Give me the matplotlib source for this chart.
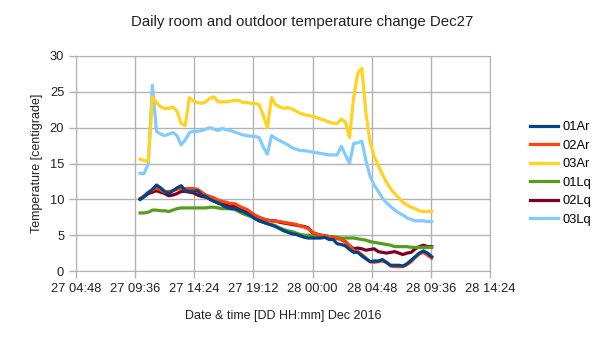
import pandas as pd
import matplotlib
matplotlib.use("Agg")
import matplotlib.pyplot as plt
import matplotlib.dates as mdates

plt.rcParams['font.family'] = ['Liberation Sans', 'DejaVu Sans']

# 20-minute readings, 27 Dec 10:00 -> 28 Dec 09:40
times = pd.date_range('2016-12-27 10:00', periods=72, freq='20min')

ar01 = [10.0, 10.4, 10.9, 11.4, 12.0, 11.6, 11.1, 10.8, 11.2, 11.6, 11.9, 11.2,
        11.1, 11.1, 11.2, 10.6, 10.4, 10.0, 9.7, 9.5, 9.2, 8.9, 8.7, 8.7,
        8.5, 8.3, 8.0, 7.7, 7.3, 7.0, 6.8, 6.6, 6.4, 6.2, 5.9, 5.6,
        5.4, 5.2, 5.1, 4.9, 4.7, 4.6, 4.6, 4.6, 4.6, 4.7, 4.4, 4.4,
        3.8, 3.7, 3.5, 3.0, 2.6, 2.6, 2.1, 1.7, 1.3, 1.4, 1.4, 1.6,
        1.2, 0.8, 0.8, 0.8, 0.7, 1.0, 1.5, 2.0, 2.5, 2.8, 2.5, 2.0]
ar02 = [10.1, 10.5, 11.0, 11.3, 11.6, 11.3, 11.0, 11.1, 11.2, 11.4, 11.5, 11.5,
        11.5, 11.5, 11.4, 11.0, 10.6, 10.4, 10.2, 9.9, 9.7, 9.6, 9.4, 9.4,
        9.1, 8.8, 8.6, 8.2, 7.8, 7.5, 7.3, 7.1, 7.0, 6.9, 6.9, 6.8,
        6.7, 6.6, 6.5, 6.3, 6.1, 5.9, 5.4, 5.2, 5.0, 4.9, 4.8, 4.7,
        4.5, 4.4, 4.0, 3.5, 2.9, 2.7, 2.3, 1.8, 1.3, 1.2, 1.3, 1.4,
        1.2, 0.7, 0.6, 0.6, 0.6, 0.9, 1.3, 1.9, 2.4, 2.6, 2.2, 1.8]
ar03 = [15.6, 15.4, 15.3, 24.3, 23.5, 22.9, 22.7, 22.7, 22.9, 22.3, 20.6, 20.3,
        24.2, 23.7, 23.5, 23.4, 23.6, 24.1, 24.3, 23.6, 23.6, 23.6, 23.7, 23.8,
        23.8, 23.5, 23.5, 23.4, 23.4, 23.2, 21.7, 20.0, 24.2, 23.2, 22.9, 22.7,
        22.8, 22.6, 22.3, 22.0, 21.8, 21.7, 21.6, 21.4, 21.2, 21.0, 20.8, 20.6,
        20.6, 21.2, 20.8, 18.6, 24.2, 27.6, 28.3, 22.0, 18.0, 16.0, 14.7, 13.5,
        12.4, 11.5, 10.8, 10.2, 9.6, 9.2, 8.9, 8.7, 8.4, 8.3, 8.3, 8.3]
lq01 = [8.1, 8.1, 8.2, 8.5, 8.5, 8.4, 8.4, 8.3, 8.5, 8.7, 8.8, 8.8,
        8.8, 8.8, 8.8, 8.8, 8.8, 8.9, 8.9, 8.8, 8.7, 8.7, 8.7, 8.6,
        8.3, 8.0, 7.8, 7.6, 7.3, 7.0, 6.8, 6.6, 6.5, 6.3, 6.0, 5.8,
        5.6, 5.5, 5.3, 5.1, 5.0, 5.0, 4.9, 4.9, 4.9, 4.9, 4.8, 4.8,
        4.7, 4.6, 4.6, 4.6, 4.6, 4.5, 4.4, 4.3, 4.1, 4.0, 3.9, 3.8,
        3.7, 3.6, 3.4, 3.4, 3.4, 3.4, 3.3, 3.3, 3.3, 3.3, 3.3, 3.3]
lq02 = [10.0, 10.4, 10.8, 11.0, 11.2, 11.0, 10.8, 10.5, 10.6, 10.8, 11.1, 11.1,
        11.0, 10.9, 10.6, 10.4, 10.3, 10.1, 9.8, 9.5, 9.4, 9.2, 9.0, 9.0,
        8.7, 8.5, 8.3, 8.0, 7.7, 7.4, 7.2, 7.1, 7.0, 7.0, 6.8, 6.7,
        6.6, 6.5, 6.4, 6.3, 6.2, 6.0, 5.3, 5.1, 5.0, 4.9, 4.8, 4.7,
        4.6, 4.4, 4.1, 3.5, 3.1, 3.2, 3.1, 2.9, 3.0, 3.1, 2.7, 2.6,
        2.5, 2.6, 2.7, 2.5, 2.3, 2.5, 2.6, 3.1, 3.4, 3.6, 3.4, 3.4]
lq03 = [13.6, 13.6, 15.0, 25.9, 19.5, 19.1, 18.9, 19.1, 19.3, 18.9, 17.6, 18.3,
        19.3, 19.5, 19.5, 19.6, 19.8, 20.0, 19.8, 19.6, 19.9, 19.7, 19.6, 19.4,
        19.2, 19.0, 18.9, 18.8, 18.8, 18.6, 17.3, 16.3, 18.9, 18.5, 18.2, 17.9,
        17.6, 17.2, 17.0, 16.8, 16.8, 16.7, 16.6, 16.5, 16.4, 16.3, 16.2, 16.2,
        16.2, 17.4, 16.2, 15.0, 17.8, 17.9, 18.1, 15.4, 13.2, 12.0, 11.1, 10.2,
        9.5, 9.0, 8.5, 8.1, 7.8, 7.4, 7.2, 7.0, 7.0, 7.0, 6.9, 6.9]

names = ['01Ar', '02Ar', '03Ar', '01Lq', '02Lq', '03Lq']
series = [ar01, ar02, ar03, lq01, lq02, lq03]
colors = ['#004586', '#ff420e', '#ffd320', '#579d1c', '#7e0021', '#83caff']

fig = plt.figure(figsize=(6.05, 3.4), dpi=100)
ax = fig.add_axes([76/605, 1 - 271/340, (490 - 76)/605, (271 - 56)/340])

for i in range(len(series)):
    ax.plot(times, series[i], color=colors[i], lw=2.3, label=names[i],
            zorder=10 - i, solid_joinstyle='round')

# x axis: 4.8 h steps from 27 04:48 to 28 14:24
xticks = pd.date_range('2016-12-27 04:48', '2016-12-28 14:24', freq='288min')
ax.set_xlim(xticks[0], xticks[-1])
ax.set_xticks(xticks)
ax.xaxis.set_major_formatter(mdates.DateFormatter('%d %H:%M'))
ax.set_ylim(0, 30)
ax.set_yticks(range(0, 31, 5))

ax.grid(True, color='#b3b3b3', lw=1)
ax.set_axisbelow(True)
for s in ax.spines.values():
    s.set_color('#b3b3b3')
ax.tick_params(colors='#b3b3b3', labelcolor='#222222', labelsize=9.3,
               length=5, width=1)

ax.set_xlabel('Date & time [DD HH:mm] Dec 2016', fontsize=9, color='#222222',
              labelpad=11)
ax.set_ylabel('Temperature [centigrade]', fontsize=9, color='#222222',
              labelpad=5)
fig.suptitle('Daily room and outdoor temperature change Dec27', fontsize=10.8,
             y=1 - 22/340, va='center', color='#222222')

fig.legend(loc='center left', bbox_to_anchor=(530/605, 1 - 173.5/340),
           frameon=False, fontsize=9.3, handlelength=2.2, labelspacing=0.5,
           handletextpad=0.3, borderpad=0, borderaxespad=0)

fig.savefig('out.png', dpi=100)
